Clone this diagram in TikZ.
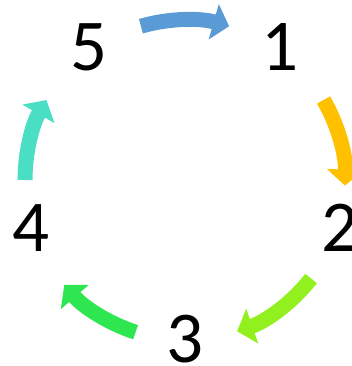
\documentclass[tikz,border=0pt]{standalone}
\usepackage{fontspec}
\setmainfont{Carlito}
\usetikzlibrary{arrows.meta}
\definecolor{cblue}{HTML}{5B9BD5}
\definecolor{corange}{HTML}{FFC000}
\definecolor{clime}{HTML}{92F01E}
\definecolor{cgreen}{HTML}{2EE650}
\definecolor{cteal}{HTML}{4ADEC4}
\tikzset{
  num/.style={inner sep=0pt, font=\fontsize{73}{73}\selectfont, text=black},
  cyc/.style={line width=15pt, -{Triangle[width=36pt,length=16pt]}},
}
\begin{document}
\begin{tikzpicture}[x=1pt,y=1pt]
\useasboundingbox (0,0) rectangle (351,-366);
\coordinate (C) at (185,-180);
\node[num] (n5) at (89,-47.5) {5};
\node[num] (n1) at (280,-47.5) {1};
\node[num] (n2) at (340,-228) {2};
\node[num] (n3) at (185,-339) {3};
\node[num] (n4) at (31,-228) {4};
\draw[cyc, cblue] (C) ++(106:160) arc[start angle=106, end angle=74, radius=160];
\draw[cyc, corange] (C) ++(30:160) arc[start angle=30, end angle=-2, radius=160];
\draw[cyc, clime] (C) ++(-38:160) arc[start angle=-38, end angle=-71, radius=160];
\draw[cyc, cgreen] (C) ++(-108:160) arc[start angle=-108, end angle=-139, radius=160];
\draw[cyc, cteal] (C) ++(180:160) arc[start angle=180, end angle=150, radius=160];
\end{tikzpicture}
\end{document}
